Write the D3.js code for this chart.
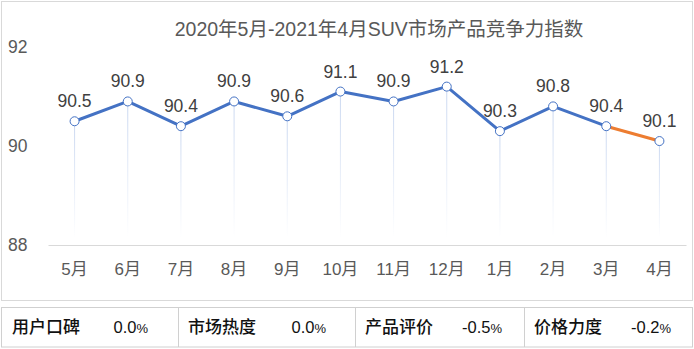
<!DOCTYPE html>
<html><head><meta charset="utf-8">
<script src="https://cdn.jsdelivr.net/npm/d3@7"></script>
<style>body{margin:0;background:#fff;}svg{display:block;}</style>
</head><body>
<svg id="c" width="694" height="349"></svg>
<script>
const title = "2020年5月-2021年4月SUV市场产品竞争力指数";
const months = ["5月","6月","7月","8月","9月","10月","11月","12月","1月","2月","3月","4月"];
const values = [90.5,90.9,90.4,90.9,90.6,91.1,90.9,91.2,90.3,90.8,90.4,90.1];
const yTicks = [88,90,92];
const tableLabels = ["用户口碑","市场热度","产品评价","价格力度"];
const tableValues = ["0.0%","0.0%","-0.5%","-0.2%"];

const svg = d3.select("#c");
const font = "'Liberation Sans', Arial, 'Noto Sans CJK SC', sans-serif";
svg.append("rect").attr("x",1.5).attr("y",1.5).attr("width",691).attr("height",299)
  .attr("fill","#fff").attr("stroke","#d9d9d9");

const x = d3.scaleBand().domain(months).range([48,686]);
const y = d3.scaleLinear().domain([88,92]).range([245,47]);

svg.append("text").attr("x",379).attr("y",36).attr("text-anchor","middle")
  .attr("font-family",font).attr("font-size",19.5).attr("fill","#595959").text(title);

const defs = svg.append("defs");
const g = defs.append("linearGradient").attr("id","drop").attr("x1",0).attr("y1",0).attr("x2",0).attr("y2",1);
g.append("stop").attr("offset","0%").attr("stop-color","#c9d7f0");
g.append("stop").attr("offset","100%").attr("stop-color","#ffffff");

// y axis labels
svg.selectAll(".yt").data(yTicks).enter().append("text")
  .attr("x",8).attr("y",d=>y(d)+6).attr("font-family",font).attr("font-size",17.5).attr("fill","#595959").text(d=>d);

// x axis
const xa = svg.append("g").attr("transform","translate(0,245)").call(d3.axisBottom(x).tickSize(0).tickPadding(18));
xa.select(".domain").attr("stroke","#d9d9d9");
xa.selectAll("text").attr("font-family",font).attr("font-size",17).attr("fill","#595959");

const cx = d => x(d)+x.bandwidth()/2;
// drop lines
svg.selectAll(".drop").data(values).enter().append("rect")
  .attr("x",(d,i)=>cx(months[i])-0.5).attr("width",1)
  .attr("y",d=>y(d)).attr("height",d=>238-y(d)).attr("fill","url(#drop)");

const pts = values.map((v,i)=>[cx(months[i]),y(v)]);
svg.append("path").attr("d",d3.line()(pts.slice(0,11))).attr("fill","none")
  .attr("stroke","#4472c4").attr("stroke-width",3).attr("stroke-linejoin","round");
svg.append("path").attr("d",d3.line()(pts.slice(10))).attr("fill","none")
  .attr("stroke","#ed7d31").attr("stroke-width",3);
svg.selectAll(".pt").data(values).enter().append("circle")
  .attr("cx",(d,i)=>cx(months[i])).attr("cy",d=>y(d)).attr("r",4.5)
  .attr("fill","#fff").attr("stroke","#4472c4").attr("stroke-width",1);
svg.selectAll(".lbl").data(values).enter().append("text")
  .attr("x",(d,i)=>cx(months[i])).attr("y",d=>y(d)-14).attr("text-anchor","middle")
  .attr("font-family",font).attr("font-size",17.5).attr("fill","#404040").text(d=>d.toFixed(1));

// table
const tx = [2,178,355,524,692];
const valEnd = [148,326,502,671];
svg.append("rect").attr("x",1.5).attr("y",307.5).attr("width",691).attr("height",39.5)
  .attr("fill","#fff").attr("stroke","#d0d0d0");
tx.slice(1,4).forEach(v=>svg.append("line").attr("x1",v+0.5).attr("x2",v+0.5).attr("y1",308).attr("y2",347).attr("stroke","#d0d0d0"));
tableLabels.forEach((l,i)=>{
  svg.append("text").attr("x",tx[i]+10).attr("y",333).attr("font-family","'Noto Sans CJK SC', sans-serif").attr("font-size",17)
    .attr("fill","#111").attr("font-weight",500).text(l);
  const t = svg.append("text").attr("x",valEnd[i]).attr("y",333).attr("text-anchor","end").attr("font-family",font)
    .attr("font-size",16.5).attr("fill","#111");
  const v = tableValues[i];
  t.append("tspan").text(v.slice(0,-1));
  t.append("tspan").attr("font-size",13).text("%");
});
</script>
</body></html>
